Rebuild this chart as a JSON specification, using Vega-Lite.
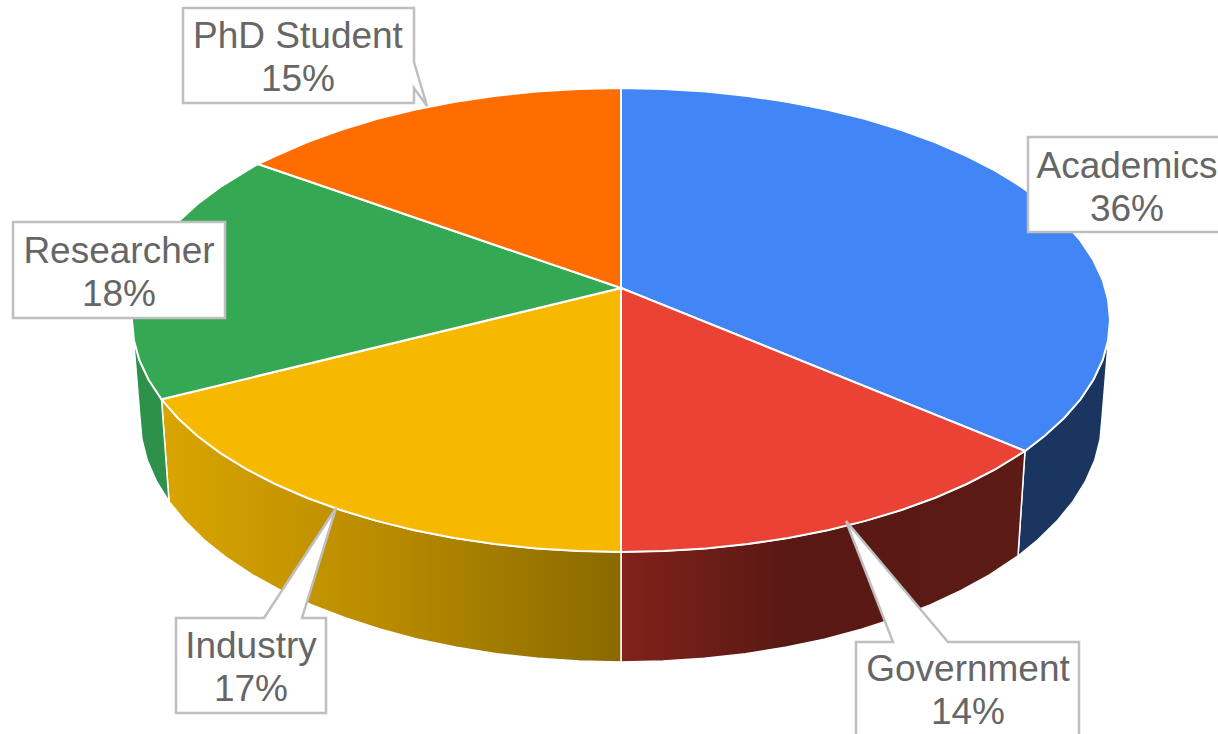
{"$schema":"https://vega.github.io/schema/vega-lite/v6.json","width":1218,"height":734,"padding":0,"autosize":{"type":"none"},"background":"#ffffff","config":{"view":{"stroke":null}},"projection":{"type":"identity","scale":1,"translate":[0,0]},
"datasets":{
"walls":[
{"type":"Feature","properties":{"slice":"Academics"},"geometry":{"type":"Polygon","coordinates":[[[1110,320],[1108.1,340.2],[1102.6,360.3],[1093.3,380],[1080.5,399.3],[1064.2,418],[1044.5,436],[1025,451],[1018,556],[1037.6,540],[1056.9,521.1],[1073,501.4],[1085.6,481.1],[1094.7,460.4],[1100.1,439.2],[1102,418],[1110,320]]]}},
{"type":"Feature","properties":{"slice":"Government"},"geometry":{"type":"Polygon","coordinates":[[[1025,451],[995.6,469.1],[966.8,484],[935.3,497.7],[901.5,510],[865.5,520.9],[827.7,530.3],[788.2,538],[747.6,544.1],[705.9,548.5],[663.6,551.1],[621,552],[621,662],[662.9,661],[704.5,658.3],[745.5,653.7],[785.5,647.3],[824.3,639.2],[861.5,629.3],[896.9,617.8],[930.2,604.9],[961.1,590.5],[989.5,574.8],[1018,556],[1025,451]]]}},
{"type":"Feature","properties":{"slice":"Industry"},"geometry":{"type":"Polygon","coordinates":[[[621,552],[578.4,551.1],[536.1,548.5],[494.4,544.1],[453.8,538],[414.3,530.3],[376.5,520.9],[340.5,510],[306.7,497.7],[275.2,484],[246.4,469.1],[220.4,453.1],[197.5,436],[177.8,418],[161.5,399.3],[169,501.4],[185.1,521.1],[204.4,540],[227,558],[252.5,574.8],[280.9,590.5],[311.8,604.9],[345.1,617.8],[380.5,629.3],[417.7,639.2],[456.5,647.3],[496.5,653.7],[537.5,658.3],[579.1,661],[621,662],[621,552]]]}},
{"type":"Feature","properties":{"slice":"Researcher"},"geometry":{"type":"Polygon","coordinates":[[[161.5,399.3],[148.7,380],[139.4,360.3],[133.9,340.2],[132,320],[140,418],[141.9,439.2],[147.3,460.4],[156.4,481.1],[169,501.4],[161.5,399.3]]]}}
],
"tops":[
{"type":"Feature","properties":{"slice":"Academics","share":36},"geometry":{"type":"Polygon","coordinates":[[[621,288],[621,88],[663.6,88.9],[705.9,91.5],[747.6,95.9],[788.2,102],[827.7,109.7],[865.5,119.1],[901.5,130],[935.3,142.3],[966.8,156],[995.6,170.9],[1021.6,186.9],[1044.5,204],[1064.2,222],[1080.5,240.7],[1093.3,260],[1102.6,279.7],[1108.1,299.8],[1110,320],[1108.1,340.2],[1102.6,360.3],[1093.3,380],[1080.5,399.3],[1064.2,418],[1044.5,436],[1025,451],[621,288]]]}},
{"type":"Feature","properties":{"slice":"Government","share":14},"geometry":{"type":"Polygon","coordinates":[[[621,288],[1025,451],[995.6,469.1],[966.8,484],[935.3,497.7],[901.5,510],[865.5,520.9],[827.7,530.3],[788.2,538],[747.6,544.1],[705.9,548.5],[663.6,551.1],[621,552],[621,288]]]}},
{"type":"Feature","properties":{"slice":"Industry","share":17},"geometry":{"type":"Polygon","coordinates":[[[621,288],[621,552],[578.4,551.1],[536.1,548.5],[494.4,544.1],[453.8,538],[414.3,530.3],[376.5,520.9],[340.5,510],[306.7,497.7],[275.2,484],[246.4,469.1],[220.4,453.1],[197.5,436],[177.8,418],[161.5,399.3],[621,288]]]}},
{"type":"Feature","properties":{"slice":"Researcher","share":18},"geometry":{"type":"Polygon","coordinates":[[[621,288],[161.5,399.3],[148.7,380],[139.4,360.3],[133.9,340.2],[132,320],[133.9,299.8],[139.4,279.7],[148.7,260],[161.5,240.7],[177.8,222],[197.5,204],[220.4,186.9],[246.4,170.9],[258,164],[621,288]]]}},
{"type":"Feature","properties":{"slice":"PhD Student","share":15},"geometry":{"type":"Polygon","coordinates":[[[621,288],[258,164],[275.2,156],[306.7,142.3],[340.5,130],[376.5,119.1],[414.3,109.7],[453.8,102],[494.4,95.9],[536.1,91.5],[578.4,88.9],[621,88],[621,288]]]}}
],
"callouts":[
{"type":"Feature","properties":{"slice":"PhD Student"},"geometry":{"type":"Polygon","coordinates":[[[183,8],[414,8],[414,62],[427,106],[414,88],[414,103],[183,103],[183,8]]]}},
{"type":"Feature","properties":{"slice":"Academics"},"geometry":{"type":"Polygon","coordinates":[[[1028,137],[1235,137],[1235,232],[1028,232],[1028,137]]]}},
{"type":"Feature","properties":{"slice":"Researcher"},"geometry":{"type":"Polygon","coordinates":[[[13,222],[225,222],[225,318],[13,318],[13,222]]]}},
{"type":"Feature","properties":{"slice":"Industry"},"geometry":{"type":"Polygon","coordinates":[[[176,618],[264,618],[336,508],[302,618],[326,618],[326,713],[176,713],[176,618]]]}},
{"type":"Feature","properties":{"slice":"Government"},"geometry":{"type":"Polygon","coordinates":[[[856,642],[893,642],[846,521],[948,642],[1079,642],[1079,750],[856,750],[856,642]]]}}
],
"labels":[
{"line":"PhD Student","x":298,"y":37},{"line":"15%","x":298,"y":80},
{"line":"Academics","x":1127,"y":167},{"line":"36%","x":1127,"y":210},
{"line":"Researcher","x":119,"y":252},{"line":"18%","x":119,"y":295},
{"line":"Industry","x":251,"y":647},{"line":"17%","x":251,"y":690},
{"line":"Government","x":968,"y":670},{"line":"14%","x":968,"y":713}
]},
"layer":[
{"data":{"name":"walls"},"transform":[{"filter":"datum.properties.slice==='Academics'"}],"mark":{"type":"geoshape","clip":true,"fill":"#1a355f","stroke":"#ffffff","strokeWidth":1.5}},
{"data":{"name":"walls"},"transform":[{"filter":"datum.properties.slice==='Government'"}],"mark":{"type":"geoshape","clip":true,"stroke":"#ffffff","strokeWidth":1.5,"fill":{"gradient":"linear","x1":0,"x2":1,"y1":0,"y2":0,"stops":[{"offset":0,"color":"#82221b"},{"offset":0.42,"color":"#581813"},{"offset":1,"color":"#5c1b15"}]}}},
{"data":{"name":"walls"},"transform":[{"filter":"datum.properties.slice==='Industry'"}],"mark":{"type":"geoshape","clip":true,"stroke":"#ffffff","strokeWidth":1.5,"fill":{"gradient":"linear","x1":0,"x2":1,"y1":0,"y2":0,"stops":[{"offset":0,"color":"#daa500"},{"offset":0.5,"color":"#b78a00"},{"offset":1,"color":"#8a6900"}]}}},
{"data":{"name":"walls"},"transform":[{"filter":"datum.properties.slice==='Researcher'"}],"mark":{"type":"geoshape","clip":true,"fill":"#2d9149","stroke":"#ffffff","strokeWidth":1.5}},
{"data":{"name":"tops"},"mark":{"type":"geoshape","clip":true,"stroke":"#ffffff","strokeWidth":2},"encoding":{"color":{"field":"properties.slice","type":"nominal","legend":null,"scale":{"domain":["Academics","Government","Industry","Researcher","PhD Student"],"range":["#4285f4","#ea4335","#f6b900","#34a853","#ff6d01"]}}}},
{"data":{"name":"callouts"},"mark":{"type":"geoshape","clip":true,"fill":"#ffffff","stroke":"#bfbfbf","strokeWidth":2.5}},
{"data":{"name":"labels"},"mark":{"type":"text","font":"Liberation Sans","fontSize":37,"color":"#666666","align":"center","baseline":"middle"},"encoding":{"longitude":{"field":"x","type":"quantitative"},"latitude":{"field":"y","type":"quantitative"},"text":{"field":"line","type":"nominal"}}}
]}
